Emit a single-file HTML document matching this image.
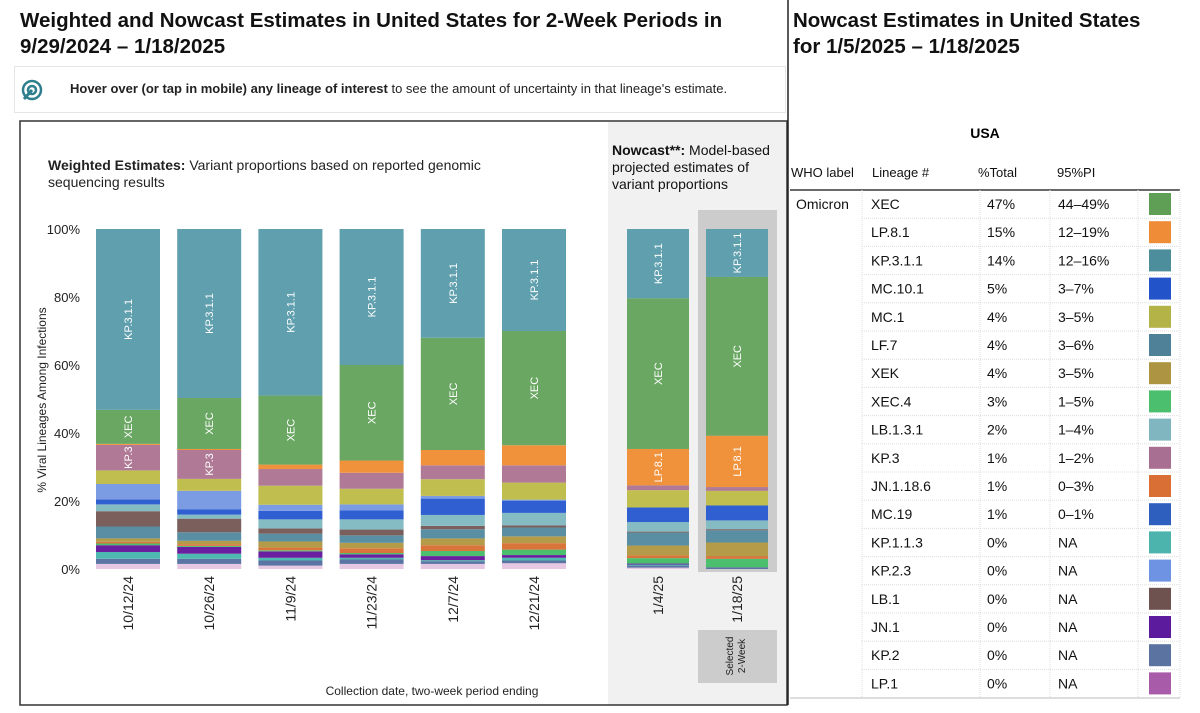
<!DOCTYPE html>
<html><head><meta charset="utf-8"><style>
body{margin:0;width:1200px;height:713px;background:#fff;font-family:"Liberation Sans",sans-serif;overflow:hidden;position:relative}
.abs{position:absolute}
</style></head><body>
<div class="abs" style="left:20px;top:8px;font-size:20.5px;font-weight:bold;line-height:26px;color:#111">Weighted and Nowcast Estimates in United States for 2-Week Periods in<br>9/29/2024 – 1/18/2025</div>
<div class="abs" style="left:793px;top:8px;font-size:20.5px;font-weight:bold;line-height:26px;color:#111">Nowcast Estimates in United States<br>for 1/5/2025 – 1/18/2025</div>
<div class="abs" style="left:14px;top:66px;width:772px;height:47px;border:1px solid #e6e6e6;box-sizing:border-box">
 <svg class="abs" style="left:6px;top:12px" width="22" height="22" viewBox="0 0 22 22"><circle cx="11" cy="11" r="9" fill="none" stroke="#2e7f8e" stroke-width="2.5"/><circle cx="11" cy="11" r="4" fill="none" stroke="#2e7f8e" stroke-width="2.5"/><path d="M11 11 L3 20" stroke="#2e7f8e" stroke-width="3"/></svg>
 <div class="abs" style="left:55px;top:14px;font-size:13px;color:#222"><b>Hover over (or tap in mobile) any lineage of interest</b> to see the amount of uncertainty in that lineage's estimate.</div>
</div>
<svg class="abs" style="left:0;top:0" width="1200" height="713" id="chart">
 <rect x="608" y="122" width="179" height="583" fill="#f1f1f1"/>
 <rect x="20" y="121" width="767" height="584" fill="none" stroke="#333" stroke-width="1.5"/>
 <rect x="698" y="210" width="79" height="362" fill="#cccccc"/>
 <rect x="698" y="630" width="79" height="53" fill="#cccccc"/>
 <text x="733" y="656" font-size="10" text-anchor="middle" transform="rotate(-90 733 656)" fill="#222">Selected</text>
 <text x="745" y="656" font-size="10" text-anchor="middle" transform="rotate(-90 745 656)" fill="#222">2-Week</text>
 <text x="48" y="170" font-size="14" fill="#222"><tspan font-weight="bold">Weighted Estimates:</tspan> Variant proportions based on reported genomic</text>
 <text x="48" y="187" font-size="14" fill="#222">sequencing results</text>
 <text font-size="14" fill="#111"><tspan x="612" y="155" font-weight="bold">Nowcast**:</tspan><tspan> Model-based</tspan><tspan x="612" y="172">projected estimates of</tspan><tspan x="612" y="189">variant proportions</tspan></text>
 <text x="46" y="400" font-size="12" text-anchor="middle" transform="rotate(-90 46 400)" fill="#222">% Viral Lineages Among Infections</text>
 <text x="432" y="695" font-size="12" text-anchor="middle" fill="#222">Collection date, two-week period ending</text>
 <g id="bars"></g>
</svg>

<div class="abs" style="left:790px;top:125px;width:390px;text-align:center;font-size:14px;font-weight:bold">USA</div>
<svg class="abs" style="left:787px;top:0" width="413" height="713" id="table"></svg>

<script>
const NS="http://www.w3.org/2000/svg";
const lineages=["Other","KP.2","KP.1.1.3","JN.1","XEC.4","JN.1.18.6","XEK","LF.7","LB.1","LB.1.3.1","MC.10.1","KP.2.3","MC.1","KP.3","LP.8.1","XEC","KP.3.1.1"];
const colors=["#e6c8e2","#5b74a3","#4fb8b0","#6a1fa0","#4cbf6e","#d9743a","#b39b4a","#5a8fa3","#7a5f5c","#85bcc4","#2f5fd0","#7b9be3","#bfbe4f","#b07a96","#f0913b","#6aa763","#5f9fae"];
const periods=["10/12/24","10/26/24","11/9/24","11/23/24","12/7/24","12/21/24","1/4/25","1/18/25"];
const b1=[1.5,1.5,2,2,0.5,0.5,1,3.5,4.5,2,1.5,4.5,4,7.5,0.3,10,53.2];
const b2=[1.5,1.5,1.5,2,0.3,0.5,1,2.5,4,1.2,1.5,5.5,3.5,8.5,0.3,15,49.7];
const b3=[1,1.5,0.8,1.9,0.3,0.8,1.8,2.3,1.5,2.7,2.5,1.8,5.6,4.9,1.3,20.3,49];
const b4=[1.5,1.3,0.5,1,0.4,1.4,1.6,2.2,1.7,3,2.6,1.8,4.6,4.7,3.6,28.1,40];
const b5=[1.5,0.8,0.3,1.2,1.5,1.7,2,2.7,1,3.2,4.8,0.8,4.9,4.1,4.5,33,32];
const b6=[1.7,0.8,0.8,0.8,1.6,1.9,2,2.6,0.6,3.7,3.6,0.3,5,5.1,5.9,33.6,30];
const b7=[0.4,0.6,0.3,0.3,1.6,0.8,2.9,3.8,0.3,2.8,4.3,0,5.1,1.4,10.7,44.3,20.4];
const b8=[0,0.5,0,0,2.5,0.8,4,3.6,0.3,2.6,4.4,0,4.3,1.1,15.1,46.7,14.1];
const series=[b1,b2,b3,b4,b5,b6,b7,b8];
const yTicks=[0,20,40,60,80,100];
const labeled=["KP.3.1.1","XEC","KP.3","LP.8.1"];

const yTop=229,yBot=569;
const y=v=>yBot-(v/100)*(yBot-yTop);
const barX=i=>i<6?96+i*81.2:627+(i-6)*79;
const barW=i=>i<6?64:62;
const g=document.getElementById('bars');
function el(tag,attrs,parent){const e=document.createElementNS(NS,tag);for(const k in attrs)e.setAttribute(k,attrs[k]);parent.appendChild(e);return e;}
yTicks.forEach(t=>{
 const tx=el('text',{x:80,y:y(t)+5,'font-size':13,'text-anchor':'end',fill:'#222'},g);
 
 
 tx.textContent=t+'%';
});
series.forEach((vals,i)=>{
 const tot=vals.reduce((a,b)=>a+b,0);
 let cum=0;
 const x=barX(i),w=barW(i);
 vals.forEach((v,j)=>{
  const v2=v/tot*100;
  const r=el('rect',{x:x,y:y(cum+v2),width:w,height:Math.max(0,y(cum)-y(cum+v2)),fill:colors[j]},g);
  
  
  if(labeled.includes(lineages[j]) && v2>6){
   const cy=(y(cum)+y(cum+v2))/2, cx=x+w/2+4;
   const t=el('text',{x:cx,y:cy,'font-size':11,fill:'#fff','text-anchor':'middle',transform:`rotate(-90 ${cx} ${cy})`},g);
   
   
   t.textContent=lineages[j];
  }
  cum+=v2;
 });
 const lx=x+w/2+5,ly=576;
 const t=el('text',{x:lx,y:ly,'font-size':14,fill:'#222','text-anchor':'end',transform:`rotate(-90 ${lx} ${ly})`},g);
 
 
 t.textContent=periods[i];
});

// table
const tLin=["XEC","LP.8.1","KP.3.1.1","MC.10.1","MC.1","LF.7","XEK","XEC.4","LB.1.3.1","KP.3","JN.1.18.6","MC.19","KP.1.1.3","KP.2.3","LB.1","JN.1","KP.2","LP.1"];
const tPct=["47%","15%","14%","5%","4%","4%","4%","3%","2%","1%","1%","1%","0%","0%","0%","0%","0%","0%"];
const tPI=["44–49%","12–19%","12–16%","3–7%","3–5%","3–6%","3–5%","1–5%","1–4%","1–2%","0–3%","0–1%","NA","NA","NA","NA","NA","NA"];
const tCol=["#5e9e55","#ef8c37","#4c8e9c","#2353c9","#b3b348","#4f8199","#ad9442","#4cbf6e","#7fb6bf","#a96f93","#d96f35","#2e5fbf","#4db3ad","#6e93e3","#6d5250","#5c1a9c","#5a73a0","#a85ba8"];
const tb=document.getElementById('table');
const H=[["WHO label",4],["Lineage #",85],["%Total",191],["95%PI",270]];
H.forEach(h=>{const t=el('text',{x:h[1],y:177,'font-size':13,fill:'#111'},tb);
 
 
 t.textContent=h[0];});
el('line',{x1:3,y1:190,x2:393,y2:190,stroke:'#111','stroke-width':1.2},tb);
el('line',{x1:1,y1:0,x2:1,y2:705,stroke:'#222','stroke-width':1.5},tb);
const rowH=28.2;
[75,193,263,351,393].forEach(cx=>el('line',{x1:cx,y1:190,x2:cx,y2:698,stroke:'#ddd','stroke-dasharray':'1,1'},tb));
el('line',{x1:3,y1:698,x2:393,y2:698,stroke:'#bbb'},tb);
const om=el('text',{x:9,y:209,'font-size':14,fill:'#111'},tb);


om.textContent='Omicron';
tLin.forEach((l,i)=>{
 const ry=190+i*rowH;
 if(i>0) el('line',{x1:75,y1:ry,x2:393,y2:ry,stroke:'#ddd','stroke-dasharray':'1,1'},tb);
 const ty=ry+19;
 [[l,84],[tPct[i],200],[tPI[i],271]].forEach((c,k)=>{
  const t=el('text',{x:c[1],y:ty,'font-size':14,fill:'#111'},tb);
  
  
  t.textContent=c[0];
 });
 const s=el('rect',{x:362,y:ry+3,width:22,height:22,fill:tCol[i]},tb);
 
 
});
</script>
</body></html>
